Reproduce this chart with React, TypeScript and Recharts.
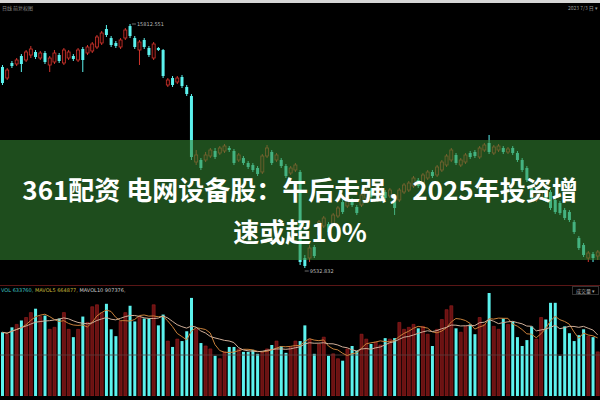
import React from 'react';
import { ComposedChart, Bar, XAxis, YAxis, Line, Cell, ReferenceDot, ReferenceLine } from 'recharts';

const opens = [
  14705, 14421, 14808, 14782, 14988, 14885, 15014, 15091, 14936, 15065,
  14756, 14833, 15014, 14808, 14936, 14988, 14885, 15168, 15065, 15117,
  15220, 15323, 15683, 15451, 15323, 15220, 15451, 15760, 15451, 15142,
  15400, 15194, 14936, 15194, 15142, 14241, 14421, 14318, 14447, 14190,
  13958, 12258, 12310, 12310, 12413, 12542, 12490, 12542, 12619, 12542,
  12310, 12361, 12233, 12181, 12104, 12001, 12413, 12516, 12310, 12310,
  12155, 11975, 12052, 12001, 9786, 9786, 10069, 10379, 10610, 10662,
  10662, 10868, 11228, 11125, 11280, 11100, 11151, 11331, 11537, 11434,
  11486, 11486, 11383, 11280, 11280, 11486, 11537, 11640, 11795, 11717,
  11846, 12001, 11924, 12052, 12181, 12310, 12439, 12181, 12258, 12490,
  12516, 12387, 12567, 12748, 12490, 12567, 12619, 12516, 12619, 12490,
  12310, 12104, 11589, 11280, 11331, 11537, 11486, 11280, 11203, 11022,
  10971, 10713, 10301, 10121, 9786, 9889, 9838,
];
const closes = [
  14293, 14627, 14730, 14885, 14782, 15091, 15168, 14962, 15065, 14833,
  14936, 15065, 14859, 15142, 15091, 14911, 15142, 14885, 15220, 15297,
  15477, 15580, 15529, 15271, 15245, 15400, 15657, 15503, 15220, 15348,
  15220, 15014, 15297, 15142, 14473, 14370, 14241, 14421, 14215, 14009,
  12387, 12439, 12104, 12439, 12567, 12387, 12619, 12670, 12567, 12233,
  12439, 12233, 12130, 12052, 11949, 12413, 12619, 12233, 12439, 12155,
  11898, 12104, 12181, 9683, 9580, 10044, 9838, 10713, 10816, 10456,
  10894, 11074, 10971, 11280, 11151, 10945, 11409, 11537, 11357, 11589,
  11692, 11331, 11537, 11074, 11537, 11666, 11717, 11846, 11640, 11924,
  12001, 11898, 12130, 12258, 12413, 12567, 12233, 12310, 12439, 12387,
  12413, 12619, 12696, 12516, 12645, 12670, 12516, 12593, 12490, 12310,
  12052, 11795, 11331, 11409, 11486, 11280, 11074, 10971, 10945, 10816,
  10765, 10456, 10044, 9864, 9915, 9786, 9941,
];
const highs = [
  14756, 14679, 14859, 14936, 15039, 15142, 15245, 15142, 15117, 15117,
  14988, 15142, 15065, 15194, 15142, 15039, 15194, 15220, 15271, 15348,
  15529, 15632, 15786, 15503, 15374, 15451, 15709, 15812, 15503, 15400,
  15451, 15245, 15348, 15220, 15168, 14421, 14473, 14473, 14499, 14241,
  14009, 12567, 12361, 12516, 12619, 12619, 12670, 12722, 12670, 12593,
  12490, 12413, 12284, 12233, 12155, 12464, 12696, 12567, 12490, 12361,
  12207, 12155, 12233, 12052, 9864, 10121, 10121, 10765, 10868, 10713,
  10945, 11125, 11280, 11331, 11331, 11151, 11460, 11589, 11589, 11640,
  11743, 11537, 11589, 11331, 11589, 11717, 11769, 11898, 11846, 11975,
  12052, 12052, 12181, 12310, 12464, 12619, 12490, 12361, 12490, 12542,
  12567, 12670, 12748, 12954, 12696, 12722, 12670, 12645, 12670, 12542,
  12361, 12155, 11640, 11460, 11537, 11589, 11537, 11331, 11254, 11074,
  11022, 10765, 10353, 10172, 9967, 9941, 9992,
];
const lows = [
  14241, 14370, 14679, 14730, 14576, 14833, 14936, 14911, 14885, 14782,
  14576, 14782, 14808, 14756, 14885, 14859, 14833, 14576, 15014, 15065,
  15168, 15271, 15477, 15220, 15194, 15168, 15400, 15451, 15168, 14756,
  15168, 14962, 14885, 15117, 14421, 14190, 14190, 14267, 14164, 13958,
  12310, 12181, 12052, 12258, 12361, 12336, 12439, 12490, 12516, 12181,
  12258, 12181, 12078, 12001, 11898, 11949, 12361, 12181, 12258, 12104,
  11846, 11924, 12001, 9606, 9529, 9683, 9786, 10301, 10559, 10404,
  10610, 10816, 10919, 11074, 11100, 10894, 11100, 11280, 11306, 11383,
  11434, 11280, 11331, 10894, 11228, 11434, 11486, 11589, 11589, 11666,
  11795, 11846, 11872, 12001, 12130, 12258, 12181, 12130, 12207, 12336,
  12361, 12336, 12516, 12464, 12439, 12516, 12464, 12464, 12439, 12258,
  12001, 11743, 11280, 11228, 11280, 11228, 11022, 10919, 10894, 10765,
  10713, 10404, 9992, 9812, 9683, 9683, 9735,
];
const volumes = [
  910000, 882000, 980000, 1022000, 1078000, 1120000, 1190000, 1246000, 1134000, 1148000,
  952000, 980000, 1106000, 1190000, 952000, 840000, 952000, 1134000, 1050000, 1274000,
  1302000, 1190000, 1316000, 952000, 854000, 1064000, 1190000, 1288000, 1064000, 1134000,
  1106000, 1106000, 1302000, 1008000, 1162000, 784000, 700000, 812000, 784000, 924000,
  1400000, 952000, 756000, 714000, 672000, 574000, 532000, 630000, 700000, 700000,
  672000, 630000, 630000, 658000, 602000, 630000, 672000, 728000, 784000, 714000,
  616000, 700000, 784000, 784000, 1008000, 812000, 602000, 742000, 840000, 574000,
  602000, 532000, 504000, 672000, 714000, 644000, 882000, 812000, 742000, 770000,
  728000, 826000, 812000, 826000, 1050000, 952000, 980000, 1022000, 966000, 994000,
  882000, 714000, 952000, 1092000, 1232000, 1288000, 966000, 910000, 994000, 1022000,
  882000, 1120000, 1022000, 1470000, 994000, 952000, 1106000, 1022000, 1064000, 840000,
  714000, 798000, 994000, 812000, 1120000, 1092000, 1330000, 1330000, 574000, 994000,
  896000, 784000, 868000, 952000, 854000, 840000, 630000,
];

const titleLine1 = '361配资 电网设备股：午后走强，2025年投资增';
const titleLine2 = '速或超10%';
const highLabel = '15812.551';
const lowLabel = '9532.832';
const volLegend = ['VOL 633760,', 'MAVOL5 664877,', 'MAVOL10 907376,'];

const CYAN = '#5cf2ee';
const RED = '#d0342c';

const movingAvg = (arr: number[], n: number) =>
  arr.map((_, i) => {
    const s = arr.slice(Math.max(0, i - n + 1), i + 1);
    return s.reduce((a, b) => a + b, 0) / s.length;
  });

const ma5 = movingAvg(volumes, 5);
const ma10 = movingAvg(volumes, 10);

const data = opens.map((o, i) => ({
  idx: i,
  open: o,
  close: closes[i],
  high: highs[i],
  low: lows[i],
  vol: volumes[i],
  ma5: ma5[i],
  ma10: ma10[i],
  up: closes[i] >= o,
}));

const Candle = (props: any) => {
  const { x, y, width, height, payload } = props;
  if (!payload) return null;
  const top = Math.min(y, y + height);
  const h = Math.abs(height);
  const { open, close, high, low } = payload;
  const ratio = h / Math.max(1, high - low);
  const yO = top + (high - open) * ratio;
  const yC = top + (high - close) * ratio;
  const up = close >= open;
  const cx = x + width / 2;
  const bTop = Math.min(yO, yC);
  const bH = Math.max(1, Math.abs(yO - yC));
  const color = up ? RED : CYAN;
  return (
    <g>
      <line x1={cx} x2={cx} y1={top} y2={bTop} stroke={color} strokeWidth={1} />
      <line x1={cx} x2={cx} y1={bTop + bH} y2={top + h} stroke={color} strokeWidth={1} />
      {up ? (
        <rect x={cx - 1.5} y={bTop} width={3} height={bH} fill="#1a0000" stroke={color} strokeWidth={0.8} />
      ) : (
        <rect x={cx - 1.5} y={bTop} width={3} height={bH} fill={color} />
      )}
    </g>
  );
};

const HighMark = (props: any) => {
  const { cx, cy } = props;
  return (
    <g>
      <line x1={cx + 2} x2={cx + 6} y1={cy} y2={cy} stroke="#bbbbbb" strokeWidth={0.6} />
      <text x={cx + 7} y={cy + 2} fontSize={5} fill="#bbbbbb" fontFamily="DejaVu Sans">{highLabel}</text>
    </g>
  );
};

const LowMark = (props: any) => {
  const { cx, cy } = props;
  return (
    <g>
      <line x1={cx} x2={cx + 4} y1={cy + 3} y2={cy + 3} stroke="#bbbbbb" strokeWidth={0.6} />
      <text x={cx + 5} y={cy + 5} fontSize={5} fill="#bbbbbb" fontFamily="DejaVu Sans">{lowLabel}</text>
    </g>
  );
};

const titleStyle: React.CSSProperties = {
  position: 'absolute', left: 0, width: 600, height: 34, lineHeight: '34px', textAlign: 'center',
  color: '#fff', fontSize: 26, fontWeight: 700, whiteSpace: 'nowrap',
};

export default function App() {
  const lowIdx = lows.indexOf(Math.min(...lows));
  const highIdx = highs.indexOf(Math.max(...highs));
  return (
    <div style={{ position: 'absolute', left: 0, top: 0, width: 600, height: 400, background: '#000', overflow: 'hidden', fontFamily: '"Noto Sans CJK SC", "Noto Sans", sans-serif' }}>
      <div style={{ position: 'absolute', left: 0, top: 0, width: 600, height: 3, background: '#d6d6d6' }} />
      <div style={{ position: 'absolute', left: 2, top: 4, fontSize: 5, color: '#8a8a8a', whiteSpace: 'nowrap' }}>日线 前复权图</div>
      <div style={{ position: 'absolute', right: 2, top: 4, fontSize: 5, color: '#9a9a9a', whiteSpace: 'nowrap' }}>2023 7/3 日 ▾</div>

      <div style={{ position: 'absolute', left: 0, top: 0 }}>
        <ComposedChart width={600} height={280} data={data} margin={{ top: 0, right: 0, bottom: 0, left: 0 }}>
          <XAxis dataKey="idx" hide />
          <YAxis hide domain={[9220, 16430]} />
          <Bar dataKey={(d: any) => [d.low, d.high]} shape={Candle} isAnimationActive={false} />
          <ReferenceDot x={highIdx} y={highs[highIdx]} r={0} shape={HighMark} />
          <ReferenceDot x={lowIdx} y={lows[lowIdx]} r={0} shape={LowMark} />
        </ComposedChart>
      </div>

      <div style={{ position: 'absolute', left: 0, top: 140, width: 600, height: 120, background: 'rgba(52,132,50,0.58)' }} />
      <div style={{ ...titleStyle, top: 172 }}>{titleLine1}</div>
      <div style={{ ...titleStyle, top: 214 }}>{titleLine2}</div>

      <div style={{ position: 'absolute', left: 0, top: 285, width: 600, height: 1, background: '#5a1616' }} />
      <div style={{ position: 'absolute', left: 0, top: 286 }}>
        <ComposedChart width={600} height={110} data={data} margin={{ top: 0, right: 0, bottom: 0, left: 0 }}>
          <XAxis dataKey="idx" hide />
          <YAxis hide domain={[0, 1570000]} />
          <ReferenceLine y={585000} stroke="#5e4040" strokeWidth={0.8} />
          <Bar dataKey="vol" barSize={3} isAnimationActive={false}>
            {data.map((d, i) => (
              <Cell key={i} fill={d.up ? '#6a1212' : CYAN} stroke={d.up ? '#9c2020' : 'none'} strokeWidth={0.6} />
            ))}
          </Bar>
          <Line dataKey="ma5" stroke="#c9803a" strokeWidth={1} dot={false} isAnimationActive={false} />
          <Line dataKey="ma10" stroke="#cfae98" strokeWidth={1} dot={false} isAnimationActive={false} />
        </ComposedChart>
      </div>
      <div style={{ position: 'absolute', left: 1, top: 287, fontSize: 5, whiteSpace: 'nowrap', fontFamily: 'DejaVu Sans' }}>
        <span style={{ color: '#3fc4c4' }}>{volLegend[0]}</span>{' '}
        <span style={{ color: '#c8bb3c' }}>{volLegend[1]}</span>{' '}
        <span style={{ color: '#cccccc' }}>{volLegend[2]}</span>
      </div>
      <div style={{ position: 'absolute', right: 1, top: 286, fontSize: 5, color: '#aaa', border: '1px solid #333', padding: '0 3px', whiteSpace: 'nowrap' }}>成交量 ▾</div>
    </div>
  );
}
